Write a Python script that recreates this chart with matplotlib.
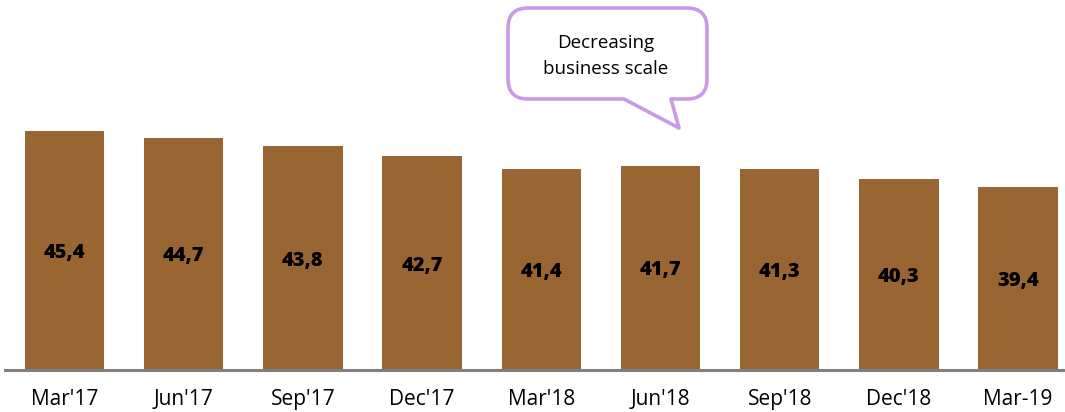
import matplotlib
matplotlib.use("Agg")
import matplotlib.pyplot as plt
from matplotlib.path import Path
from matplotlib.patches import PathPatch

categories = ["Mar'17", "Jun'17", "Sep'17", "Dec'17", "Mar'18", "Jun'18", "Sep'18", "Dec'18", "Mar-19"]
values = [45.4, 44.7, 43.8, 42.7, 41.4, 41.7, 41.3, 40.3, 39.4]
callout_text = "Decreasing\nbusiness scale"

W, H = 1065, 412
fig = plt.figure(figsize=(W / 100, H / 100), dpi=100)
plt.rcParams['font.family'] = ['Open Sans', 'DejaVu Sans']

y0 = 20
px_per_unit = (369.5 - 131) / (45.4 - y0)
ytop = y0 + 369.5 / px_per_unit
step = 119.2
ax = fig.add_axes([(64.5 - step / 2) / W, (H - 369.5) / H, 9 * step / W, 369.5 / H])
ax.set_xlim(-0.5, len(categories) - 0.5)
ax.set_ylim(y0, ytop)

x = range(len(categories))
ax.bar(x, [v - y0 for v in values], bottom=y0, width=0.665, color="#996633")
for xi, v in zip(x, values):
    ax.text(xi, (y0 + v) / 2 - 0.3, f"{v:.1f}".replace(".", ","), ha="center", va="center",
            fontsize=14.5, fontweight="heavy", color="black")

for s in ["top", "left", "right"]:
    ax.spines[s].set_visible(False)
ax.spines["bottom"].set_color("#808080")
ax.spines["bottom"].set_linewidth(2.2)
ax.set_yticks([])
ax.set_xticks(list(x))
ax.set_xticklabels(categories, fontsize=15, color="black")
ax.tick_params(axis="x", length=0, pad=14)


# speech bubble drawn in figure pixel coordinates (origin top-left)
def fp(px, py):
    return (px / W, 1 - py / H)

L, R, T, B, r = 508, 707, 8, 99, 20
tail_l, tail_r, tip = 624, 671, (679, 128)
pts = [
    (fp(L + r, T), Path.MOVETO),
    (fp(R - r, T), Path.LINETO),
    (fp(R, T), Path.CURVE3), (fp(R, T + r), Path.CURVE3),
    (fp(R, B - r), Path.LINETO),
    (fp(R, B), Path.CURVE3), (fp(R - r, B), Path.CURVE3),
    (fp(tail_r, B), Path.LINETO),
    (fp(*tip), Path.LINETO),
    (fp(tail_l, B), Path.LINETO),
    (fp(L + r, B), Path.LINETO),
    (fp(L, B), Path.CURVE3), (fp(L, B - r), Path.CURVE3),
    (fp(L, T + r), Path.LINETO),
    (fp(L, T), Path.CURVE3), (fp(L + r, T), Path.CURVE3),
    (fp(L + r, T), Path.CLOSEPOLY),
]
verts, codes = zip(*pts)
bubble = PathPatch(Path(verts, codes), transform=fig.transFigure, facecolor="white",
                   edgecolor="#CC99E6", linewidth=2.6, joinstyle="round")
fig.patches.append(bubble)
fig.text(606 / W, 1 - 56 / H, callout_text, ha="center", va="center", fontsize=13.5,
         color="black", linespacing=1.5)

fig.savefig("out.png", dpi=100)
